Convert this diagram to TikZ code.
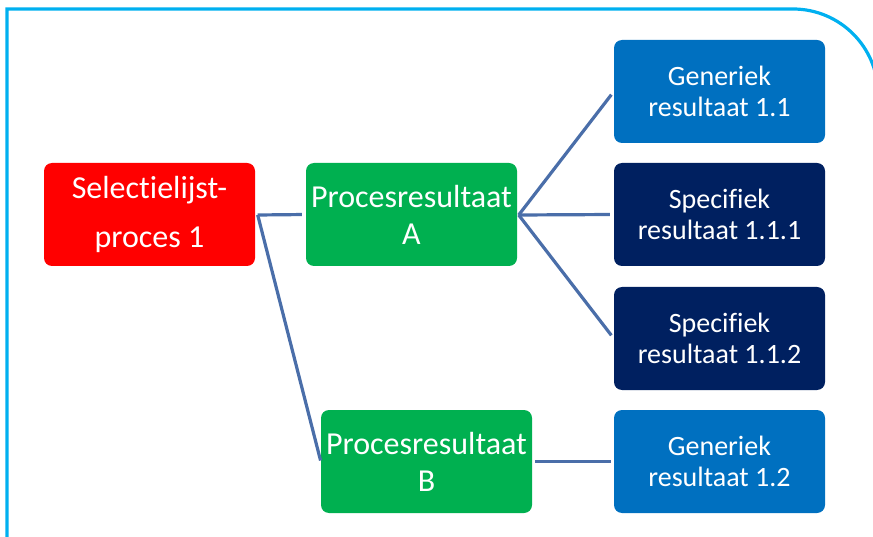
\documentclass[tikz,border=0pt]{standalone}
\usepackage{fontspec}
\setmainfont{Carlito}[Ligatures={NoCommon}]
\usepackage{xcolor}
\usetikzlibrary{calc}
\definecolor{kaderBlauw}{RGB}{0,176,240}
\definecolor{lijnBlauw}{RGB}{74,110,169}
\definecolor{procesRood}{RGB}{255,0,0}
\definecolor{procesGroen}{RGB}{0,176,80}
\definecolor{generiekBlauw}{RGB}{0,112,192}
\definecolor{specifiekBlauw}{RGB}{0,32,96}
\tikzset{
	vak/.style={rectangle, rounded corners=8pt, inner sep=0pt,
		minimum width=211pt, minimum height=103pt,
		text=white, align=center},
	grootVak/.style={vak, font=\fontsize{32}{37}\selectfont},
	kleinVak/.style={vak, font=\fontsize{28}{31}\selectfont},
	verbinding/.style={draw=lijnBlauw, line width=3.2pt},
}

\begin{document}
\begin{tikzpicture}[x=1pt,y=-1pt]

	\useasboundingbox (0,0) rectangle (873,537);
	\clip (0,0) rectangle (873,537);

	% kader
	\draw [kaderBlauw, line width=3.2pt] (7,545) -- (7,9) -- (400,9)
		[rounded corners=85pt] -- (878,9) -- (878,545);

	% vakken
	\node (proces) [grootVak, fill=procesRood,
		font=\fontsize{32}{49}\selectfont] at (149.5,214.5)
		{Selectielijst-\\proces 1};
	\node (resA) [grootVak, fill=procesGroen] at (411.5,214.5)
		{Procesresultaat\\A};
	\node (resB) [grootVak, fill=procesGroen] at (426.5,461.5)
		{Procesresultaat\\B};

	\node (gen11) [kleinVak, fill=generiekBlauw] at (719.5,91.5)
		{Generiek\\resultaat 1.1};
	\node (spec111) [kleinVak, fill=specifiekBlauw] at (719.5,214.5)
		{Specifiek\\resultaat 1.1.1};
	\node (spec112) [kleinVak, fill=specifiekBlauw] at (719.5,338.5)
		{Specifiek\\resultaat 1.1.2};
	\node (gen12) [kleinVak, fill=generiekBlauw] at (719.5,461.5)
		{Generiek\\resultaat 1.2};

	% verbindingen
	\coordinate (splitP) at ($(proces.east)+(2.5,0.5)$);
	\coordinate (splitA) at ($(resA.east)+(1.5,0.5)$);

	\draw [verbinding, shorten >=4pt] (splitP) -- (resA.west);
	\draw [verbinding, shorten >=1pt] (splitP) -- (resB.west);

	\foreach \doel in {gen11,spec111,spec112}{
		\draw [verbinding, shorten >=4pt] (splitA) -- (\doel.west);
	}

	\draw [verbinding, shorten <=3pt, shorten >=3pt] (resB.east) -- (gen12.west);

\end{tikzpicture}
\end{document}
